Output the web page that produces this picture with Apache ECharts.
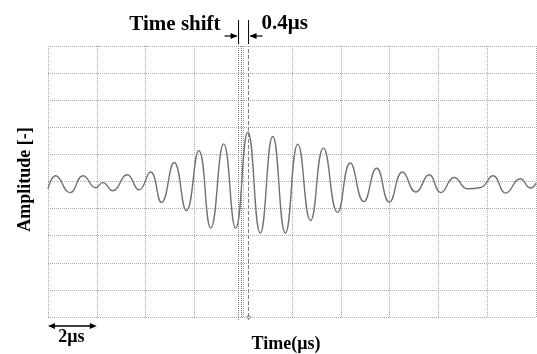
<!DOCTYPE html>
<html>
<head>
<meta charset="utf-8">
<script src="https://cdn.jsdelivr.net/npm/echarts@6/dist/echarts.min.js"></script>
<style>
  html, body { margin: 0; padding: 0; background: #fff; }
  #chart { width: 537px; height: 354px; }
</style>
</head>
<body>
<div id="chart"></div>
<script>
// waveform (peaks / troughs), time in µs, amplitude in grid divisions
const timeUs = [0, 0.31, 0.90, 1.44, 1.96, 2.25, 2.65, 3.24, 3.73, 4.20, 4.65, 5.17, 5.67, 6.18,
  6.67, 7.20, 7.69, 8.19, 8.70, 9.21, 9.73, 10.24, 10.76, 11.29, 11.87, 12.39, 12.94, 13.47,
  13.99, 14.53, 15.08, 15.62, 16.10, 16.65, 17.19, 17.74, 18.24, 18.76, 19.35, 19.78, 20]
const amplitude = [-0.27, 0.21, -0.41, 0.21, -0.23, -0.04, -0.34, 0.25, -0.31, 0.35, -0.77, 0.70,
  -1.07, 1.14, -1.72, 1.39, -1.72, 1.82, -1.90, 1.66, -1.90, 1.38, -1.44, 1.23, -1.14, 0.68,
  -0.74, 0.49, -0.76, 0.35, -0.39, 0.25, -0.41, 0.15, -0.27, -0.22, 0.21, -0.43, 0.10, -0.24, -0.06]

const dottedMarks = [7.81, 7.94]
const dashedMark = 8.22
const scaleBar = [0, 2]

const FONT = '"Liberation Serif", "Times New Roman", serif'

const chart = echarts.init(document.getElementById('chart'), null, { renderer: 'canvas' })

const gridLine = { show: true, lineStyle: { type: 'dotted', color: '#a8a8a8', width: 1 } }

chart.setOption({
  animation: false,
  grid: { left: 48, right: 1, top: 46, bottom: 37 },
  xAxis: {
    type: 'value', min: 0, max: 20, interval: 2,
    axisLine: { show: false }, axisTick: { show: false }, axisLabel: { show: false },
    splitLine: gridLine,
  },
  yAxis: {
    type: 'value', min: -5, max: 5, interval: 1,
    axisLine: { show: false }, axisTick: { show: false }, axisLabel: { show: false },
    splitLine: gridLine,
  },
  series: [{
    type: 'line',
    data: timeUs.map((t, i) => [t, amplitude[i]]),
    smooth: 0.5,
    showSymbol: false,
    lineStyle: { color: '#727272', width: 1.4 },
    markLine: {
      silent: true,
      symbol: 'none',
      label: { show: false },
      data: [
        ...dottedMarks.map((x) => ({ xAxis: x, lineStyle: { type: 'dotted', color: '#808080', width: 1 } })),
        { xAxis: dashedMark, lineStyle: { type: 'dashed', color: '#808080', width: 1 } },
      ],
    },
  }],
})

// annotations placed through the axes
const px = (t, v) => chart.convertToPixel({ gridIndex: 0 }, [t, v])
const arrowHead = (x, y, dir) => ({
  type: 'polygon',
  shape: { points: [[x, y], [x - dir * 7, y - 3], [x - dir * 7, y + 3]] },
  style: { fill: '#000' },
})

const [xa] = px(dottedMarks[0], 0)
const [xb] = px(dashedMark, 0)
const [, yTop] = px(0, 5)
const [, yBot] = px(0, -5)
const [s0] = px(scaleBar[0], 0)
const [s1] = px(scaleBar[1], 0)
const arrowY = 36
const barY = yBot + 9

const graphic = [
  { type: 'line', shape: { x1: xa, y1: 20, x2: xa, y2: yTop - 2 }, style: { stroke: '#000', lineWidth: 1 } },
  { type: 'line', shape: { x1: xb, y1: 20, x2: xb, y2: yTop - 2 }, style: { stroke: '#000', lineWidth: 1 } },
  { type: 'line', shape: { x1: xa - 14, y1: arrowY, x2: xa - 2, y2: arrowY }, style: { stroke: '#000', lineWidth: 1.2 } },
  arrowHead(xa - 1, arrowY, 1),
  { type: 'line', shape: { x1: xb + 14, y1: arrowY, x2: xb + 2, y2: arrowY }, style: { stroke: '#000', lineWidth: 1.2 } },
  arrowHead(xb + 1, arrowY, -1),
  { type: 'line', shape: { x1: xa, y1: yBot, x2: xa, y2: yBot + 3 }, style: { stroke: '#808080', lineWidth: 1, lineDash: [1, 1] } },
  { type: 'line', shape: { x1: xb, y1: yBot, x2: xb, y2: yBot + 3 }, style: { stroke: '#808080', lineWidth: 1, lineDash: [3, 2] } },
  { type: 'circle', shape: { cx: xb, cy: yBot, r: 1.6 }, style: { fill: '#fff', stroke: '#777', lineWidth: 0.8 } },
  {
    type: 'text', x: xa - 18, y: 25,
    style: { text: 'Time shift', font: 'bold 21px ' + FONT, fill: '#000', align: 'right', verticalAlign: 'middle' },
  },
  {
    type: 'text', x: xb + 13, y: 24,
    style: { text: '0.4μs', font: 'bold 21px ' + FONT, fill: '#000', align: 'left', verticalAlign: 'middle' },
  },
  { type: 'line', shape: { x1: s0 + 3, y1: barY, x2: s1 - 3, y2: barY }, style: { stroke: '#000', lineWidth: 1.4 } },
  arrowHead(s0, barY, -1),
  arrowHead(s1, barY, 1),
  {
    type: 'text', x: (s0 + s1) / 2 - 1, y: barY + 11,
    style: { text: '2μs', font: 'bold 18px ' + FONT, fill: '#000', align: 'center', verticalAlign: 'middle' },
  },
  {
    type: 'text', x: 286, y: 344,
    style: { text: 'Time(μs)', font: 'bold 18px ' + FONT, fill: '#000', align: 'center', verticalAlign: 'middle' },
  },
  {
    type: 'text', x: 25, y: (yTop + yBot) / 2 - 2, rotation: Math.PI / 2,
    style: { text: 'Amplitude [-]', font: 'bold 18px ' + FONT, fill: '#000', align: 'center', verticalAlign: 'middle' },
  },
]

chart.setOption({ graphic })
window.addEventListener('resize', () => chart.resize())
</script>
</body>
</html>
